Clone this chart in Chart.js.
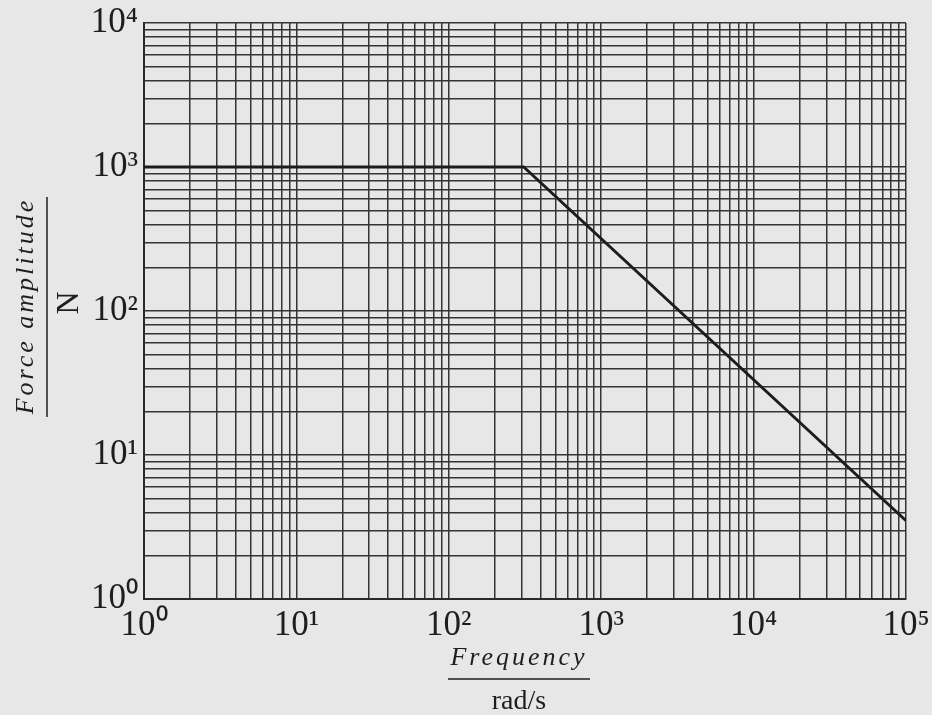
<!DOCTYPE html>
<html lang="en">
<head>
  <meta charset="UTF-8" />
  <title>Force amplitude vs Frequency</title>
  <script src="https://cdn.jsdelivr.net/npm/chart.js"></script>
  <style>
    body {
      background-color: #e7e7e7;
      margin: 0;
      padding: 0;
    }

    canvas {
      display: block;
    }
  </style>
</head>
<body>

  <canvas id="forceChart" width="932" height="715"></canvas>

  <script>
    // datos
    const frequency = [1, 310, 100000];       // rad/s
    const forceAmplitude = [1000, 1000, 3.5]; // N

    // ticks (decadas + multiplos 2..9)
    const xDecades = [0, 1, 2, 3, 4, 5];
    const yDecades = [0, 1, 2, 3, 4];
    const mantissas = [1, 2, 3, 4, 5, 6, 7, 8, 9];
    const superscripts = ['⁰', '¹', '²', '³', '⁴', '⁵'];

    const serif = "'Liberation Serif', 'Times New Roman', serif";
    const ink = '#2a2a2a';

    function buildTicks(decades) {
      const out = [];
      const last = decades[decades.length - 1];
      decades.forEach(d => {
        if (d === last) {
          out.push({ value: Math.pow(10, d), major: true });
        } else {
          mantissas.forEach(m => out.push({ value: m * Math.pow(10, d), major: m === 1 }));
        }
      });
      return out;
    }

    function powLabel(value) {
      const e = Math.round(Math.log10(value));
      if (Math.abs(Math.pow(10, e) - value) < 1e-9 * value) {
        return '10' + superscripts[e];
      }
      return '';
    }

    // titulos en forma de fraccion (cantidad / unidad)
    const fractionTitles = {
      id: 'fractionTitles',
      afterDraw(chart) {
        const { ctx, chartArea } = chart;
        const cx = (chartArea.left + chartArea.right) / 2;
        const cy = (chartArea.top + chartArea.bottom) / 2;
        ctx.save();
        ctx.fillStyle = '#1e1e1e';
        ctx.strokeStyle = '#1e1e1e';
        ctx.textAlign = 'center';
        ctx.textBaseline = 'alphabetic';

        // eje x
        ctx.font = 'italic 26px ' + serif;
        ctx.letterSpacing = '3px';
        ctx.fillText('Frequency', cx - 6, 665);
        ctx.letterSpacing = '0px';
        ctx.lineWidth = 1.5;
        ctx.beginPath();
        ctx.moveTo(cx - 77, 679);
        ctx.lineTo(cx + 65, 679);
        ctx.stroke();
        ctx.font = '28px ' + serif;
        ctx.fillText('rad/s', cx - 6, 709);

        // eje y
        ctx.save();
        ctx.translate(33, cy - 5);
        ctx.rotate(-Math.PI / 2);
        ctx.font = 'italic 26px ' + serif;
        ctx.letterSpacing = '3px';
        ctx.fillText('Force amplitude', 0, 0);
        ctx.restore();

        ctx.beginPath();
        ctx.moveTo(47, cy - 114);
        ctx.lineTo(47, cy + 106);
        ctx.stroke();

        ctx.save();
        ctx.translate(78, cy - 8);
        ctx.rotate(-Math.PI / 2);
        ctx.font = '32px ' + serif;
        ctx.fillText('N', 0, 0);
        ctx.restore();

        ctx.restore();
      }
    };

    const gridStyle = {
      color: '#353535',
      lineWidth: 1.5,
      drawTicks: false
    };

    const ctx = document.getElementById('forceChart').getContext('2d');
    const chart = new Chart(ctx, {
      type: 'line',
      data: {
        datasets: [{
          label: 'Force amplitude',
          data: frequency.map((f, i) => ({ x: f, y: forceAmplitude[i] })),
          borderColor: '#1c1c1c',
          borderWidth: 2.8,
          pointRadius: 0,
          tension: 0
        }]
      },
      options: {
        responsive: false,
        animation: false,
        layout: {
          padding: { left: 0, right: 26, top: 23, bottom: 0 }
        },
        plugins: {
          legend: { display: false },
          tooltip: { enabled: false }
        },
        scales: {
          x: {
            type: 'logarithmic',
            min: 1,
            max: 100000,
            afterBuildTicks: scale => { scale.ticks = buildTicks(xDecades); },
            afterFit: scale => {
              scale.height = 116;
              scale.paddingLeft = 0;
              scale.paddingRight = 0;
            },
            grid: gridStyle,
            border: { display: true, color: ink, width: 2 },
            ticks: {
              autoSkip: false,
              maxRotation: 0,
              padding: 6,
              color: '#1e1e1e',
              font: { family: serif, size: 35 },
              callback: value => powLabel(value)
            }
          },
          y: {
            type: 'logarithmic',
            min: 1,
            max: 10000,
            afterBuildTicks: scale => { scale.ticks = buildTicks(yDecades); },
            afterFit: scale => {
              scale.width = 144;
              scale.paddingTop = 0;
              scale.paddingBottom = 0;
            },
            grid: gridStyle,
            border: { display: true, color: ink, width: 2 },
            ticks: {
              autoSkip: false,
              padding: 6,
              color: '#1e1e1e',
              font: { family: serif, size: 35 },
              callback: value => powLabel(value)
            }
          }
        }
      },
      plugins: [fractionTitles]
    });
  </script>
</body>
</html>
